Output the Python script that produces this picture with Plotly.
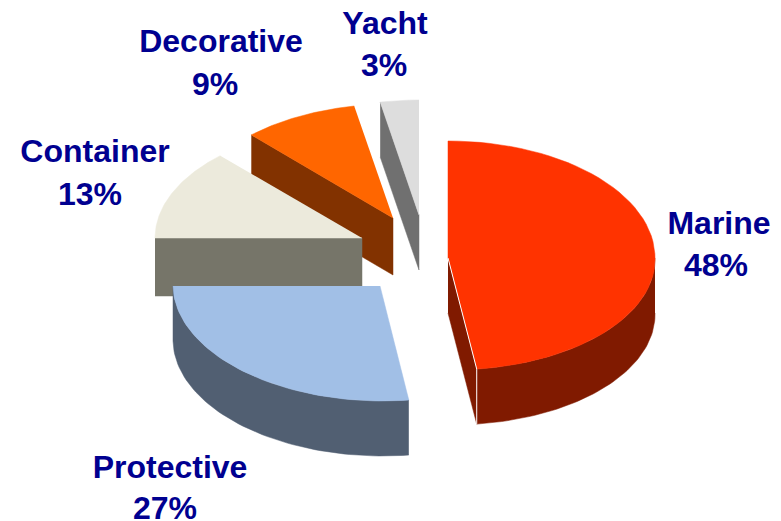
import numpy as np
import plotly.graph_objects as go

categories = ["Marine", "Protective", "Container", "Decorative", "Yacht"]
shares = [48, 27, 13, 9, 3]

# Drawing style and layout (pixel space of the 781x521 page)
top_colors = ["#FF3300", "#A1BFE6", "#ECEADC", "#FF6600", "#DDDDDD"]
wall_colors = ["#801A00", "#515F72", "#767569", "#823200", "#707070"]
apex_x = [448, 380, 362, 393, 419]
apex_y = [258, 286, 238, 218, 215]
depth = [55, 55, 58, 57, 55]
ry_back = [117, 117, 113, 114, 115]
ry_front = [112, 115, 113, 114, 115]
name_x = [719, 170, 95, 221, 385]
name_y = [226, 470, 154, 44, 26]
pct_x = [716, 165, 90, 215, 384]
pct_y = [268, 511, 197, 87, 68]
draw_order = [4, 3, 2, 0, 1]
RX = 207
FRONT_LEAN = 0.025
NAVY = "#000090"


def rim(i, start, end):
    t = np.radians(np.linspace(start, end, 60))
    c = np.cos(t)
    y_off = np.where(c > 0, ry_back[i], ry_front[i]) * c
    x = apex_x[i] + RX * np.sin(t) + np.where(c < 0, -y_off * FRONT_LEAN, 0)
    return x, apex_y[i] - y_off


def poly(fig, xs, ys, color, line=None):
    fig.add_trace(go.Scatter(
        x=list(xs), y=list(ys), mode="lines", fill="toself", fillcolor=color,
        line=dict(color=line or color, width=0.5), hoverinfo="skip", showlegend=False,
    ))


edges = np.concatenate([[0], np.cumsum(shares)]) * 360 / sum(shares)
fig = go.Figure()

for i in draw_order:
    a0, a1 = edges[i], edges[i + 1]
    rx, ry = rim(i, a0, a1)
    ax, ay, d = apex_x[i], apex_y[i], depth[i]

    # Outer wall: only the part of the rim that faces the viewer
    if a0 < 270 and a1 > 90:
        s0, s1 = max(a0, 90), min(a1, 270)
        wx, wy = rim(i, s0, s1)
        poly(fig, np.r_[wx, wx[::-1]], np.r_[wy, wy[::-1] + d], wall_colors[i])

    # Cut faces that face the viewer
    if i == 0:
        poly(fig, [ax, rx[-1], rx[-1], ax], [ay, ry[-1], ry[-1] + d, ay + d], wall_colors[i])
    if i in (2, 3, 4):
        poly(fig, [rx[0], ax, ax, rx[0]], [ry[0], ay, ay + d, ry[0] + d], wall_colors[i])

    # Top face
    poly(fig, np.r_[ax, rx], np.r_[ay, ry], top_colors[i])

    if i == 0:
        fig.add_trace(go.Scatter(
            x=[ax, rx[-1], rx[-1]], y=[ay, ry[-1], ry[-1] + d], mode="lines",
            line=dict(color="#FFFFFF", width=1), hoverinfo="skip", showlegend=False,
        ))

label_font = dict(family="Liberation Sans", size=32, color=NAVY)
fig.add_trace(go.Scatter(
    x=name_x, y=name_y, mode="text", text=[f"<b>{c}</b>" for c in categories],
    textposition="middle center", textfont=label_font, hoverinfo="skip", showlegend=False,
))
fig.add_trace(go.Scatter(
    x=pct_x, y=pct_y, mode="text", text=[f"<b>{s}%</b>" for s in shares],
    textposition="middle center", textfont=label_font, hoverinfo="skip", showlegend=False,
))

fig.update_layout(
    width=781, height=521, margin=dict(l=0, r=0, t=0, b=0),
    paper_bgcolor="#FFFFFF", plot_bgcolor="#FFFFFF", showlegend=False,
    xaxis=dict(range=[0, 781], visible=False, fixedrange=True),
    yaxis=dict(range=[521, 0], visible=False, fixedrange=True),
)
fig.write_html("out.html", config={"displayModeBar": False},
               post_script="document.body.style.margin='0';document.documentElement.style.overflow='hidden';")
